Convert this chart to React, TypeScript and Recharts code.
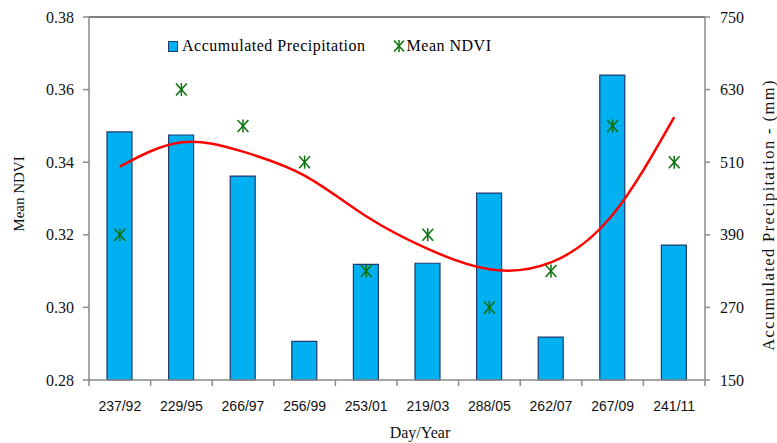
import React from "react";
import {
  Bar,
  ComposedChart,
  Legend,
  Line,
  ReferenceLine,
  XAxis,
  YAxis,
} from "recharts";

const dayYear = ["237/92", "229/95", "266/97", "256/99", "253/01", "219/03", "288/05", "262/07", "267/09", "241/11"];
const precipitation = [560, 555, 487, 214, 341, 343, 459, 221, 654, 373];
const meanNdvi = [0.32, 0.36, 0.35, 0.34, 0.31, 0.32, 0.3, 0.31, 0.35, 0.34];
const ndviTrend = [0.3388, 0.3455, 0.3429, 0.3363, 0.3251, 0.3161, 0.3105, 0.3124, 0.3255, 0.3524];
const ndviTicks = [0.28, 0.3, 0.32, 0.34, 0.36, 0.38];
const precipTicks = [150, 270, 390, 510, 630, 750];

const SERIF = "'Liberation Serif', 'Times New Roman', serif";
const SANS = "'Liberation Sans', Arial, sans-serif";
const AXIS_GREY = "#8a8a8a";
const BAR_BLUE = "#00b0f0";
const BAR_EDGE = "#1f3a6e";
const STAR_GREEN = "#0a700a";

const data = dayYear.map((d, i) => ({
  name: d,
  precip: precipitation[i],
  ndvi: meanNdvi[i],
  trend: ndviTrend[i],
}));

function Star({ cx, cy, size = 6 }: { cx: number; cy: number; size?: number }) {
  const w = size * 0.9;
  return (
    <g stroke={STAR_GREEN} strokeWidth={1.5} fill="none">
      <line x1={cx - w} y1={cy - size} x2={cx + w} y2={cy + size} />
      <line x1={cx - w} y1={cy + size} x2={cx + w} y2={cy - size} />
      <line x1={cx} y1={cy - size - 0.5} x2={cx} y2={cy + size + 0.5} />
    </g>
  );
}

const TICK_SIZE = 6;
const TICK_MARGIN = 10;

function DayTick(props: any) {
  const { x, y, payload, index, visibleTicksCount } = props;
  const half = payload?.offset || 30.8;
  const axisY = y - TICK_SIZE - TICK_MARGIN;
  const last = index === (visibleTicksCount ?? dayYear.length) - 1;
  return (
    <g>
      <line x1={x - half} x2={x - half} y1={axisY} y2={axisY + TICK_SIZE} stroke={AXIS_GREY} strokeWidth={1.5} />
      {last && (
        <line x1={x + half} x2={x + half} y1={axisY} y2={axisY + TICK_SIZE} stroke={AXIS_GREY} strokeWidth={1.5} />
      )}
      <text x={x} y={axisY + 31} textAnchor="middle" fontFamily={SANS} fontSize={14} fill="#111">
        {payload.value}
      </text>
    </g>
  );
}

function ChartLegend() {
  return (
    <div
      style={{
        display: "flex",
        alignItems: "center",
        fontFamily: SERIF,
        fontSize: 16,
        letterSpacing: 0.5,
        color: "#000",
        whiteSpace: "nowrap",
      }}
    >
      <span
        style={{
          display: "inline-block",
          width: 8,
          height: 9,
          background: BAR_BLUE,
          border: `1px solid ${BAR_EDGE}`,
          marginRight: 4,
        }}
      />
      <span>Accumulated Precipitation</span>
      <svg width={14} height={14} style={{ marginLeft: 26, marginRight: 1 }}>
        <Star cx={7} cy={7} size={5.5} />
      </svg>
      <span>Mean NDVI</span>
    </div>
  );
}

export default function App() {
  return (
    <div style={{ position: "absolute", left: 0, top: 0, width: 777, height: 443, background: "#fff" }}>
      <ComposedChart width={777} height={443} data={data} margin={{ top: 17, right: 0, bottom: 0, left: 0 }}>
        <XAxis
          dataKey="name"
          height={63}
          axisLine={{ stroke: AXIS_GREY, strokeWidth: 1.5 }}
          tickLine={false}
          tickSize={TICK_SIZE}
          tickMargin={TICK_MARGIN}
          interval={0}
          tick={<DayTick />}
          label={() => (
            <text x={420} y={438} textAnchor="middle" fontFamily={SERIF} fontSize={16} fill="#111">
              Day/Year
            </text>
          )}
        />
        <YAxis
          yAxisId="left"
          orientation="left"
          width={89}
          domain={[0.28, 0.38]}
          ticks={ndviTicks}
          tickFormatter={(v: number) => v.toFixed(2)}
          axisLine={{ stroke: AXIS_GREY, strokeWidth: 1.5 }}
          tickLine={{ stroke: AXIS_GREY, strokeWidth: 1.5 }}
          tickSize={6}
          tickMargin={9}
          tick={{ fontFamily: SERIF, fontSize: 16, fill: "#111" }}
          label={() => (
            <text
              x={19}
              y={194}
              transform="rotate(-90 19 194)"
              textAnchor="middle"
              dominantBaseline="central"
              fontFamily={SERIF}
              fontSize={15}
              fill="#111"
            >
              Mean NDVI
            </text>
          )}
        />
        <YAxis
          yAxisId="right"
          orientation="right"
          width={72}
          domain={[150, 750]}
          ticks={precipTicks}
          axisLine={{ stroke: AXIS_GREY, strokeWidth: 1.5 }}
          tickLine={{ stroke: AXIS_GREY, strokeWidth: 1.5 }}
          tickSize={5}
          tickMargin={10}
          tick={{ fontFamily: SERIF, fontSize: 16, fill: "#111" }}
          label={() => (
            <text
              x={768}
              y={215}
              transform="rotate(-90 768 215)"
              textAnchor="middle"
              dominantBaseline="central"
              fontFamily={SERIF}
              fontSize={16.5}
              letterSpacing={1.4}
              fill="#111"
            >
              Accumulated Precipitation -  (mm)
            </text>
          )}
        />
        <ReferenceLine yAxisId="left" y={0.38} stroke="#000" strokeWidth={1} />
        <Legend
          layout="horizontal"
          align="center"
          verticalAlign="middle"
          wrapperStyle={{ top: 37, left: 168, width: "auto" }}
          content={() => <ChartLegend />}
        />
        <Bar
          yAxisId="right"
          dataKey="precip"
          name="Accumulated Precipitation"
          barSize={25}
          fill={BAR_BLUE}
          stroke={BAR_EDGE}
          strokeWidth={1.2}
          isAnimationActive={false}
        />
        <Line
          yAxisId="left"
          dataKey="trend"
          type="natural"
          stroke="#ff0000"
          strokeWidth={2.5}
          dot={false}
          activeDot={false}
          legendType="none"
          isAnimationActive={false}
        />
        <Line
          yAxisId="left"
          dataKey="ndvi"
          name="Mean NDVI"
          stroke="none"
          activeDot={false}
          dot={(p: any) => <Star key={`s-${p.index}`} cx={p.cx} cy={p.cy} />}
          isAnimationActive={false}
        />
      </ComposedChart>
    </div>
  );
}
